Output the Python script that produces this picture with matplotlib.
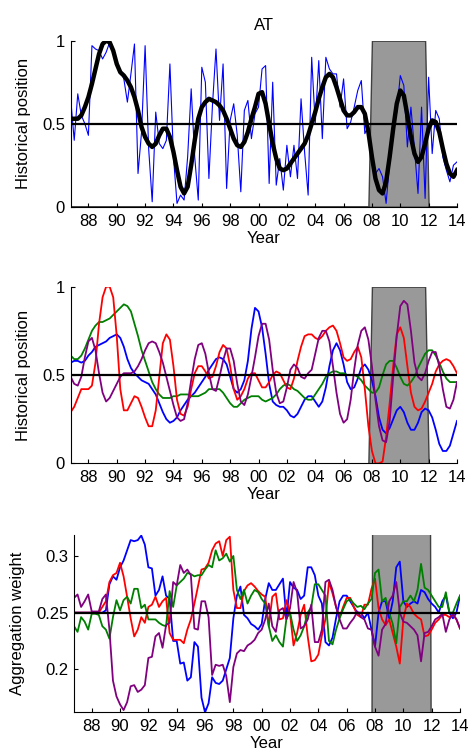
import matplotlib
matplotlib.use('Agg')
import matplotlib.pyplot as plt
import numpy as np

plt.rcParams['font.family'] = ['Liberation Sans', 'DejaVu Sans']
plt.rcParams['font.size'] = 12

# Quarterly time axis, 1986 Q4 .. 2014 Q1 (110 quarters).
quarters = np.arange(1986.75, 2014.01, 0.25)

# Recession indicator per quarter (1 = shaded).
recession = np.zeros(len(quarters))
recession[(quarters >= 2008.0) & (quarters <= 2011.75)] = 1

# Top panel: raw historical position and its smoothed version.
raw_position = [
    0.65, 0.40, 0.68, 0.55, 0.50, 0.43, 0.97, 0.95, 0.94, 0.89,
    0.93, 0.99, 0.95, 0.88, 0.82, 0.77, 0.63, 0.80, 0.98, 0.20,
    0.45, 0.97, 0.35, 0.03, 0.57, 0.38, 0.35, 0.40, 0.86, 0.30,
    0.02, 0.07, 0.04, 0.30, 0.71, 0.30, 0.04, 0.84, 0.75, 0.17,
    0.61, 0.95, 0.52, 0.86, 0.11, 0.52, 0.62, 0.43, 0.09, 0.58,
    0.64, 0.41, 0.56, 0.60, 0.83, 0.85, 0.14, 0.75, 0.13, 0.29,
    0.10, 0.37, 0.18, 0.37, 0.17, 0.65, 0.33, 0.07, 0.90, 0.50,
    0.88, 0.41, 0.90, 0.83, 0.80, 0.80, 0.60, 0.77, 0.47, 0.51,
    0.60, 0.70, 0.76, 0.44, 0.49, 0.27, 0.20, 0.23, 0.18, 0.02,
    0.27, 0.45, 0.57, 0.79, 0.73, 0.36, 0.60, 0.35, 0.08, 0.60,
    0.05, 0.78, 0.32, 0.58, 0.53, 0.30, 0.22, 0.15, 0.25, 0.27]
smooth_position = [
    0.53, 0.53, 0.53, 0.55, 0.60, 0.66, 0.74, 0.83, 0.92, 0.98,
    1.00, 0.99, 0.94, 0.86, 0.81, 0.79, 0.76, 0.72, 0.66, 0.58,
    0.48, 0.42, 0.38, 0.36, 0.38, 0.43, 0.47, 0.47, 0.42, 0.33,
    0.22, 0.12, 0.08, 0.12, 0.25, 0.40, 0.53, 0.60, 0.63, 0.65,
    0.64, 0.63, 0.61, 0.58, 0.53, 0.47, 0.41, 0.37, 0.36, 0.39,
    0.45, 0.53, 0.60, 0.68, 0.69, 0.62, 0.50, 0.38, 0.29, 0.23,
    0.22, 0.23, 0.26, 0.29, 0.32, 0.35, 0.38, 0.43, 0.50, 0.57,
    0.65, 0.72, 0.78, 0.80, 0.78, 0.72, 0.65, 0.58, 0.55, 0.55,
    0.57, 0.60, 0.60, 0.56, 0.45, 0.30, 0.17, 0.10, 0.08, 0.15,
    0.30, 0.47, 0.62, 0.70, 0.67, 0.55, 0.42, 0.32, 0.27, 0.30,
    0.38, 0.47, 0.52, 0.51, 0.45, 0.35, 0.26, 0.20, 0.18, 0.22]

# Middle panel: smoothed positions of the four indicators.
pos_blue = [
    0.57, 0.58, 0.58, 0.57, 0.58, 0.61, 0.63, 0.66, 0.67, 0.68,
    0.69, 0.71, 0.72, 0.73, 0.71, 0.66, 0.59, 0.54, 0.51, 0.49,
    0.47, 0.46, 0.45, 0.42, 0.39, 0.34, 0.29, 0.25, 0.23, 0.24,
    0.26, 0.30, 0.33, 0.36, 0.38, 0.40, 0.43, 0.46, 0.49, 0.53,
    0.56, 0.59, 0.60, 0.59, 0.56, 0.49, 0.42, 0.40, 0.42, 0.47,
    0.58, 0.76, 0.88, 0.86, 0.77, 0.62, 0.45, 0.35, 0.33, 0.32,
    0.32, 0.30, 0.27, 0.26, 0.28, 0.32, 0.36, 0.38, 0.38, 0.35,
    0.32, 0.35, 0.43, 0.55, 0.64, 0.68, 0.64, 0.56, 0.46, 0.42,
    0.43, 0.48, 0.54, 0.56, 0.53, 0.47, 0.38, 0.26, 0.19, 0.17,
    0.20, 0.25, 0.30, 0.32, 0.29, 0.23, 0.19, 0.19, 0.23, 0.29,
    0.31, 0.30, 0.26, 0.19, 0.11, 0.07, 0.07, 0.10, 0.17, 0.24]
pos_green = [
    0.61, 0.59, 0.59, 0.61, 0.65, 0.70, 0.75, 0.78, 0.80, 0.80,
    0.81, 0.82, 0.84, 0.86, 0.88, 0.90, 0.89, 0.86, 0.79, 0.72,
    0.64, 0.58, 0.52, 0.46, 0.42, 0.39, 0.37, 0.37, 0.37, 0.38,
    0.38, 0.39, 0.39, 0.39, 0.38, 0.38, 0.38, 0.39, 0.40, 0.42,
    0.42, 0.42, 0.42, 0.40, 0.37, 0.34, 0.32, 0.32, 0.34, 0.36,
    0.37, 0.38, 0.38, 0.38, 0.36, 0.35, 0.36, 0.37, 0.39, 0.42,
    0.44, 0.45, 0.44, 0.42, 0.41, 0.39, 0.37, 0.36, 0.36, 0.39,
    0.42, 0.45, 0.49, 0.51, 0.52, 0.52, 0.51, 0.51, 0.50, 0.50,
    0.50, 0.49, 0.47, 0.44, 0.42, 0.40, 0.40, 0.43, 0.50, 0.56,
    0.58, 0.58, 0.54, 0.49, 0.45, 0.44, 0.46, 0.49, 0.54, 0.58,
    0.62, 0.64, 0.64, 0.61, 0.57, 0.52, 0.48, 0.46, 0.46, 0.46]
pos_red = [
    0.29, 0.32, 0.37, 0.42, 0.42, 0.42, 0.44, 0.57, 0.79, 0.94,
    1.00, 1.00, 0.94, 0.72, 0.42, 0.30, 0.30, 0.34, 0.38, 0.37,
    0.32, 0.26, 0.21, 0.21, 0.30, 0.49, 0.68, 0.73, 0.70, 0.55,
    0.36, 0.28, 0.27, 0.32, 0.42, 0.51, 0.55, 0.55, 0.52, 0.48,
    0.49, 0.55, 0.63, 0.67, 0.65, 0.55, 0.42, 0.36, 0.38, 0.42,
    0.48, 0.51, 0.51, 0.47, 0.43, 0.43, 0.46, 0.50, 0.52, 0.51,
    0.47, 0.43, 0.42, 0.48, 0.58, 0.66, 0.72, 0.73, 0.73, 0.71,
    0.70, 0.72, 0.75, 0.77, 0.78, 0.75, 0.68, 0.60, 0.58, 0.59,
    0.63, 0.66, 0.60, 0.42, 0.21, 0.07, 0.00, 0.00, 0.01, 0.15,
    0.34, 0.55, 0.73, 0.77, 0.71, 0.55, 0.40, 0.32, 0.30, 0.31,
    0.35, 0.40, 0.45, 0.52, 0.56, 0.58, 0.59, 0.58, 0.55, 0.51]
pos_purple = [
    0.49, 0.45, 0.44, 0.49, 0.60, 0.69, 0.71, 0.64, 0.51, 0.40,
    0.35, 0.37, 0.41, 0.45, 0.49, 0.51, 0.51, 0.51, 0.52, 0.55,
    0.59, 0.64, 0.68, 0.69, 0.68, 0.63, 0.57, 0.49, 0.41, 0.33,
    0.26, 0.24, 0.25, 0.34, 0.47, 0.59, 0.67, 0.68, 0.62, 0.51,
    0.42, 0.41, 0.49, 0.58, 0.65, 0.65, 0.58, 0.45, 0.35, 0.33,
    0.39, 0.49, 0.60, 0.72, 0.79, 0.79, 0.70, 0.53, 0.40, 0.34,
    0.35, 0.43, 0.53, 0.56, 0.54, 0.49, 0.48, 0.51, 0.53, 0.62,
    0.71, 0.75, 0.75, 0.69, 0.55, 0.40, 0.28, 0.23, 0.25, 0.36,
    0.53, 0.67, 0.75, 0.77, 0.70, 0.55, 0.36, 0.21, 0.13, 0.12,
    0.24, 0.49, 0.72, 0.89, 0.92, 0.90, 0.75, 0.57, 0.49, 0.47,
    0.51, 0.58, 0.63, 0.63, 0.55, 0.42, 0.32, 0.31, 0.36, 0.46]

# Bottom panel: aggregation weights of the four indicators.
w_blue = [
    0.250, 0.250, 0.250, 0.250, 0.250, 0.250, 0.250, 0.250, 0.250, 0.252,
    0.275, 0.282, 0.279, 0.290, 0.296, 0.305, 0.314, 0.313, 0.314, 0.318,
    0.310, 0.290, 0.289, 0.265, 0.270, 0.282, 0.265, 0.262, 0.225, 0.225,
    0.205, 0.206, 0.190, 0.193, 0.224, 0.220, 0.175, 0.162, 0.170, 0.193,
    0.188, 0.187, 0.190, 0.200, 0.210, 0.245, 0.265, 0.273, 0.248, 0.245,
    0.240, 0.238, 0.235, 0.240, 0.262, 0.276, 0.270, 0.270, 0.275, 0.280,
    0.245, 0.277, 0.272, 0.270, 0.262, 0.265, 0.290, 0.290, 0.283, 0.265,
    0.258, 0.224, 0.221, 0.228, 0.245, 0.260, 0.265, 0.265, 0.260, 0.255,
    0.250, 0.250, 0.245, 0.250, 0.235, 0.220, 0.250, 0.260, 0.260, 0.245,
    0.260, 0.290, 0.295, 0.260, 0.255, 0.258, 0.260, 0.258, 0.270, 0.268,
    0.262, 0.258, 0.255, 0.250, 0.260, 0.265, 0.250, 0.245, 0.250, 0.265]
w_green = [
    0.238, 0.233, 0.246, 0.242, 0.235, 0.249, 0.249, 0.248, 0.238, 0.235,
    0.227, 0.246, 0.261, 0.252, 0.261, 0.264, 0.258, 0.271, 0.271, 0.254,
    0.257, 0.244, 0.244, 0.244, 0.241, 0.239, 0.238, 0.269, 0.255, 0.274,
    0.277, 0.280, 0.285, 0.284, 0.282, 0.283, 0.283, 0.288, 0.292, 0.290,
    0.305, 0.296, 0.298, 0.302, 0.295, 0.300, 0.270, 0.262, 0.270, 0.258,
    0.265, 0.270, 0.268, 0.262, 0.258, 0.238, 0.225, 0.230, 0.224, 0.220,
    0.245, 0.250, 0.235, 0.225, 0.230, 0.238, 0.250, 0.255, 0.275, 0.275,
    0.270, 0.265, 0.225, 0.222, 0.235, 0.245, 0.253, 0.260, 0.262, 0.258,
    0.255, 0.256, 0.253, 0.258, 0.262, 0.285, 0.288, 0.260, 0.263, 0.250,
    0.240, 0.223, 0.255, 0.260, 0.260, 0.265, 0.260, 0.270, 0.293, 0.272,
    0.270, 0.265, 0.260, 0.255, 0.255, 0.268, 0.250, 0.250, 0.258, 0.265]
w_red = [
    0.250, 0.250, 0.250, 0.250, 0.250, 0.250, 0.250, 0.250, 0.255, 0.260,
    0.277, 0.283, 0.285, 0.294, 0.282, 0.264, 0.245, 0.229, 0.235, 0.246,
    0.241, 0.255, 0.257, 0.264, 0.255, 0.260, 0.263, 0.232, 0.226, 0.226,
    0.226, 0.223, 0.235, 0.244, 0.258, 0.273, 0.288, 0.289, 0.294, 0.305,
    0.311, 0.313, 0.300, 0.314, 0.317, 0.270, 0.254, 0.254, 0.269, 0.274,
    0.276, 0.273, 0.269, 0.266, 0.264, 0.238, 0.264, 0.267, 0.244, 0.245,
    0.261, 0.249, 0.221, 0.232, 0.248, 0.257, 0.229, 0.207, 0.208, 0.213,
    0.230, 0.244, 0.277, 0.267, 0.255, 0.246, 0.255, 0.263, 0.263, 0.255,
    0.248, 0.246, 0.257, 0.257, 0.271, 0.280, 0.254, 0.244, 0.239, 0.244,
    0.232, 0.220, 0.205, 0.244, 0.258, 0.255, 0.249, 0.246, 0.244, 0.229,
    0.230, 0.235, 0.241, 0.244, 0.248, 0.248, 0.246, 0.248, 0.244, 0.236]
w_purple = [
    0.263, 0.266, 0.255, 0.260, 0.266, 0.251, 0.251, 0.251, 0.262, 0.266,
    0.235, 0.190, 0.176, 0.169, 0.164, 0.171, 0.185, 0.186, 0.180, 0.182,
    0.186, 0.210, 0.211, 0.229, 0.232, 0.219, 0.239, 0.241, 0.277, 0.274,
    0.292, 0.285, 0.288, 0.283, 0.236, 0.235, 0.260, 0.260, 0.246, 0.195,
    0.204, 0.203, 0.204, 0.194, 0.171, 0.202, 0.214, 0.217, 0.216, 0.221,
    0.223, 0.226, 0.232, 0.235, 0.244, 0.258, 0.238, 0.233, 0.252, 0.254,
    0.244, 0.254, 0.277, 0.268, 0.236, 0.238, 0.244, 0.257, 0.224, 0.224,
    0.235, 0.277, 0.279, 0.270, 0.255, 0.244, 0.236, 0.236, 0.241, 0.245,
    0.251, 0.246, 0.244, 0.236, 0.235, 0.220, 0.212, 0.235, 0.240, 0.260,
    0.265, 0.277, 0.250, 0.242, 0.241, 0.238, 0.235, 0.230, 0.207, 0.232,
    0.233, 0.238, 0.244, 0.246, 0.249, 0.233, 0.244, 0.249, 0.244, 0.236]

year_ticks = list(range(1988, 2015, 2))
year_labels = ['%02d' % (y % 100) for y in year_ticks]

BLUE = (0, 0, 1)
GREEN = (0, 0.5, 0)
RED = (1, 0, 0)
PURPLE = (0.5, 0, 0.5)


def style_axis(ax, ylim, yticks, yticklabels, ylabel, label_x):
    # shaded recession quarters, clipped by the axis limits
    ax.fill_between(quarters, 0, recession, facecolor=(0.6, 0.6, 0.6),
                    edgecolor=(0.25, 0.25, 0.25), linewidth=1, zorder=0)
    ax.set_xlim(1986.75, 2014)
    ax.set_ylim(*ylim)
    ax.set_xticks(year_ticks)
    ax.set_xticklabels(year_labels)
    ax.set_yticks(yticks)
    ax.set_yticklabels(yticklabels)
    ax.tick_params(direction='in', length=3, width=0.8, labelsize=12)
    ax.tick_params(axis='x', pad=5)
    ax.tick_params(axis='y', pad=4)
    for side in ['top', 'right']:
        ax.spines[side].set_visible(False)
    ax.set_xlabel('Year', fontsize=12, labelpad=1.5)
    ax.set_ylabel(ylabel, fontsize=12)
    ax.yaxis.set_label_coords(label_x, 0.5)


fig = plt.figure(figsize=(4.69, 7.55), dpi=100)

# Top panel
ax1 = fig.add_axes([0.1507, 0.7262, 0.8237, 0.2199])
style_axis(ax1, (0, 1), [0, 0.5, 1], ['0', '0.5', '1'], 'Historical position', -0.103)
ax1.plot(quarters, raw_position, color=BLUE, lw=0.8)
ax1.plot(quarters, smooth_position, color='black', lw=3.2, solid_joinstyle='round')
ax1.axhline(0.5, color='black', lw=1.6)
ax1.set_title('AT', fontsize=12, pad=8)

# Middle panel
ax2 = fig.add_axes([0.1507, 0.3863, 0.8237, 0.2340])
style_axis(ax2, (0, 1), [0, 0.5, 1], ['0', '0.5', '1'], 'Historical position', -0.103)
ax2.plot(quarters, pos_blue, color=BLUE, lw=1.3)
ax2.plot(quarters, pos_green, color=GREEN, lw=1.3)
ax2.plot(quarters, pos_red, color=RED, lw=1.3)
ax2.plot(quarters, pos_purple, color=PURPLE, lw=1.3)
ax2.axhline(0.5, color='black', lw=1.6)

# Bottom panel
ax3 = fig.add_axes([0.1578, 0.0565, 0.8230, 0.2349])
style_axis(ax3, (0.162, 0.3185), [0.2, 0.25, 0.3], ['0.2', '0.25', '0.3'],
           'Aggregation weight', -0.127)
ax3.plot(quarters, w_blue, color=BLUE, lw=1.3)
ax3.plot(quarters, w_red, color=RED, lw=1.3)
ax3.plot(quarters, w_green, color=GREEN, lw=1.3)
ax3.plot(quarters, w_purple, color=PURPLE, lw=1.3)
ax3.axhline(0.25, color='black', lw=1.6)

fig.savefig('out.png', dpi=100)
